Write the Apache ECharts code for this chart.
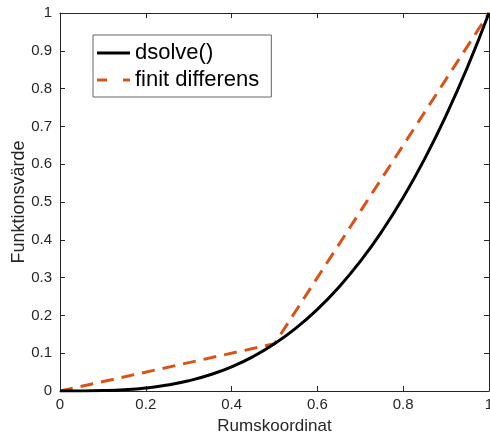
<!DOCTYPE html>
<html>
<head>
<meta charset="utf-8">
<script src="https://cdn.jsdelivr.net/npm/echarts@6/dist/echarts.min.js"></script>
<style>
  html, body { margin: 0; padding: 0; background: #fff; }
  #chart { width: 490px; height: 436px; }
</style>
</head>
<body>
<div id="chart"></div>
<script>
    // dsolve() - analytisk lösning
    let xExact = [0, 0.05, 0.1, 0.15, 0.2, 0.25, 0.3, 0.35, 0.4, 0.45, 0.5,
                  0.55, 0.6, 0.65, 0.7, 0.75, 0.8, 0.85, 0.9, 0.95, 1];
    let yExact = [0, 0.0001, 0.001, 0.0034, 0.008, 0.0156, 0.027, 0.0429, 0.064, 0.0911, 0.125,
                  0.1664, 0.216, 0.2746, 0.343, 0.4219, 0.512, 0.6141, 0.729, 0.8574, 1];

    // finit differens, tre punkter
    let xFd = [0, 0.5, 1];
    let yFd = [0, 0.125, 1];

    let xTicks = [0, 0.2, 0.4, 0.6, 0.8, 1];

    let myChart = echarts.init(document.getElementById('chart'));

    let axisColor = '#262626';
    let fontFam = 'Liberation Sans, Arial, sans-serif';

    function pairs(xs, ys) {
        let res = [];
        for (let i = 0; i < xs.length; i++) {
            res.push([xs[i], ys[i]]);
        }
        return res;
    }

    let tickStyle = { show: true, inside: true, length: 5, lineStyle: { color: axisColor, width: 1 } };
    let lineStyleAx = { show: true, onZero: false, lineStyle: { color: axisColor, width: 1 } };

    let option = {
        animation: false,
        grid: { left: 60, right: 1, top: 13, bottom: 45, containLabel: false, outerBoundsMode: 'none' },
        legend: {
            orient: 'vertical',
            left: 93,
            top: 35,
            backgroundColor: '#fff',
            borderColor: '#666',
            borderWidth: 1,
            padding: [7, 12, 6, 4],
            itemGap: 5,
            itemWidth: 33,
            itemHeight: 3,
            textStyle: { fontSize: 22, color: '#000', fontFamily: fontFam },
            data: [
                { name: 'dsolve()', icon: 'path://M0,0H33V3H0Z' },
                { name: 'finit differens', icon: 'path://M0,0H10V3H0Z M26,0H33V3H26Z' }
            ]
        },
        xAxis: [
            {
                type: 'value',
                min: 0,
                max: 1,
                interval: 0.2,
                name: 'Rumskoordinat',
                nameLocation: 'middle',
                nameGap: 27,
                nameMoveOverlap: false,
                nameTextStyle: { fontSize: 17, color: axisColor, fontFamily: fontFam },
                axisLine: lineStyleAx,
                axisTick: tickStyle,
                axisLabel: {
                    fontSize: 15, color: axisColor, fontFamily: fontFam, margin: 6,
                    formatter: function (v) { return xTicks.indexOf(+v.toFixed(1)) > -1 ? String(+v.toFixed(1)) : ''; }
                },
                splitLine: { show: false }
            },
            {
                type: 'value',
                position: 'top',
                min: 0,
                max: 1,
                interval: 0.2,
                axisLine: lineStyleAx,
                axisTick: tickStyle,
                axisLabel: { show: false },
                splitLine: { show: false }
            }
        ],
        yAxis: [
            {
                type: 'value',
                min: 0,
                max: 1,
                interval: 0.1,
                name: 'Funktionsvärde',
                nameLocation: 'middle',
                nameGap: 32,
                nameMoveOverlap: false,
                nameTextStyle: { fontSize: 18, color: axisColor, fontFamily: fontFam },
                axisLine: lineStyleAx,
                axisTick: tickStyle,
                axisLabel: {
                    fontSize: 15, color: axisColor, fontFamily: fontFam, margin: 8,
                    formatter: function (v) { return String(+v.toFixed(1)); }
                },
                splitLine: { show: false }
            },
            {
                type: 'value',
                position: 'right',
                min: 0,
                max: 1,
                interval: 0.1,
                axisLine: lineStyleAx,
                axisTick: tickStyle,
                axisLabel: { show: false },
                splitLine: { show: false }
            }
        ],
        series: [
            {
                name: 'dsolve()',
                type: 'line',
                data: pairs(xExact, yExact),
                smooth: true,
                showSymbol: false,
                symbol: 'none',
                color: '#000',
                lineStyle: { color: '#000', width: 3 },
                z: 3
            },
            {
                name: 'finit differens',
                type: 'line',
                data: pairs(xFd, yFd),
                showSymbol: false,
                symbol: 'none',
                color: '#D95319',
                lineStyle: { color: '#D95319', width: 3, type: [13, 8] },
                z: 2
            },
            {
                // tom serie så att de övre/högra axlarna ritas
                name: 'ram',
                type: 'line',
                xAxisIndex: 1,
                yAxisIndex: 1,
                data: [],
                showSymbol: false,
                silent: true
            }
        ]
    };

    myChart.setOption(option);
</script>
</body>
</html>
